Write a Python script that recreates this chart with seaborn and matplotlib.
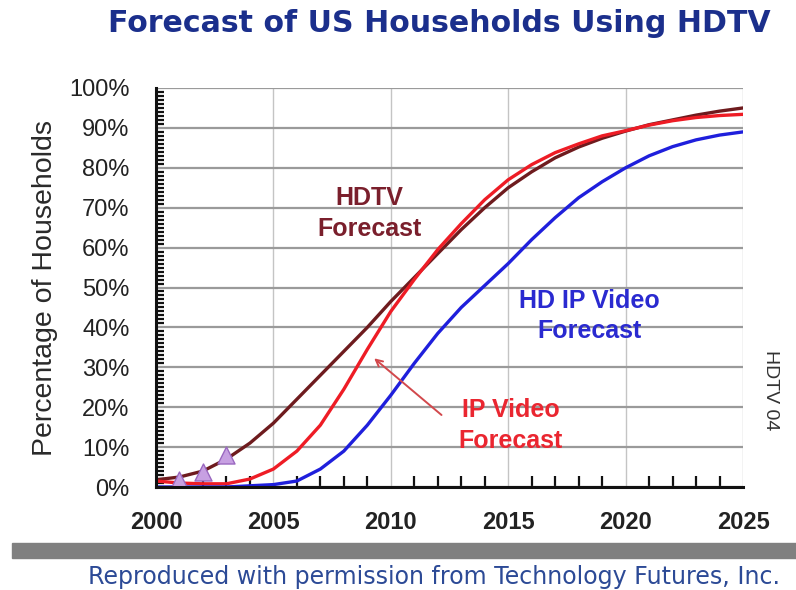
import numpy as np
import pandas as pd
import matplotlib
matplotlib.use("Agg")
import matplotlib.pyplot as plt
from matplotlib.ticker import MultipleLocator, FuncFormatter
import seaborn as sns

# ---- data (percent of US households) ----
years = list(range(2000, 2026))
hdtv = [1.8, 2.5, 4.0, 7.0, 11.0, 16.0, 22.0, 28.0, 34.0, 40.0, 46.5, 52.5, 58.5,
        64.5, 70.0, 75.0, 79.0, 82.5, 85.2, 87.4, 89.2, 90.8, 92.0, 93.2, 94.2, 95.0]
ip_video = [1.5, 1.0, 0.8, 0.8, 2.0, 4.5, 9.0, 15.5, 24.5, 34.5, 44.0, 52.0, 59.5,
            66.0, 72.0, 77.0, 80.8, 83.8, 86.0, 88.0, 89.3, 90.7, 91.8, 92.6, 93.1, 93.4]
hd_ip_video = [0.0, 0.0, 0.0, 0.0, 0.3, 0.6, 1.5, 4.5, 9.0, 15.5, 23.0, 31.0, 38.5,
               45.0, 50.5, 56.0, 62.0, 67.5, 72.5, 76.5, 80.0, 83.0, 85.3, 87.0, 88.2, 89.0]
actual_years = [2001, 2002, 2003]
actual_hdtv = [1.8, 3.8, 7.9]

series_names = ["HDTV", "IP Video", "HD IP Video"]
series_colors = ["#6e1b1e", "#ee1c25", "#1f1fdc"]

df = pd.DataFrame({
    "Year": years * 3,
    "Pct": hdtv + ip_video + hd_ip_video,
    "Series": [series_names[0]] * len(years) + [series_names[1]] * len(years)
              + [series_names[2]] * len(years),
})
actual = pd.DataFrame({"Year": actual_years, "Pct": actual_hdtv})

sns.set_theme(style="white")
plt.rcParams["font.family"] = ["Liberation Sans", "DejaVu Sans"]

fig = plt.figure(figsize=(7.96, 5.90), dpi=100)
ax = fig.add_axes([156 / 796, 1 - 487 / 590, (743 - 156) / 796, (487 - 88) / 590])

sns.lineplot(data=df, x="Year", y="Pct", hue="Series",
             palette=dict(zip(series_names, series_colors)),
             hue_order=series_names, linewidth=2.4, legend=False, ax=ax,
             zorder=3)
sns.scatterplot(data=actual, x="Year", y="Pct", marker="^", s=150,
                color="#c7a0e2", edgecolor="#9a68c0", linewidth=1.0,
                ax=ax, zorder=4, legend=False)

ax.set_xlim(2000, 2025)
ax.set_ylim(0, 100)
ax.xaxis.set_major_locator(MultipleLocator(5))
ax.xaxis.set_minor_locator(MultipleLocator(1))
ax.yaxis.set_major_locator(MultipleLocator(10))
ax.yaxis.set_minor_locator(MultipleLocator(1))
ax.yaxis.set_major_formatter(FuncFormatter(lambda v, p: f"{int(round(v))}%"))

ax.grid(True, which="major", axis="y", color="#9a9a9a", linewidth=1.6, zorder=0)
ax.grid(True, which="major", axis="x", color="#c4c4c4", linewidth=1.0, zorder=0)
ax.set_axisbelow(True)

for s in ["top", "right"]:
    ax.spines[s].set_visible(False)
for s in ["left", "bottom"]:
    ax.spines[s].set_color("#111111")
    ax.spines[s].set_linewidth(2.2)
    ax.spines[s].set_zorder(5)

ax.tick_params(axis="both", which="major", direction="inout", length=14,
               width=2.0, color="#111111")
ax.tick_params(axis="y", which="minor", direction="in", length=6, width=1.6,
               color="#111111", left=True)
ax.tick_params(axis="x", which="minor", direction="in", length=8, width=1.6,
               color="#111111", bottom=True)
ax.tick_params(axis="y", which="major", labelsize=17, pad=12, labelcolor="#222222")
ax.tick_params(axis="x", which="major", labelsize=17, pad=10, labelcolor="#222222")
for lab in ax.get_xticklabels():
    lab.set_fontweight("bold")

ax.set_xlabel("")
ax.set_ylabel("Percentage of Households", fontsize=20.5, color="#2a2a2a",
              labelpad=8)

# annotations
ax.text(2009.1, 68.6, "HDTV\nForecast", color="#7a1f2c", fontsize=18,
        fontweight="bold", ha="center", va="center", linespacing=1.35)
ax.text(2018.45, 42.9, "HD IP Video\nForecast", color="#2a2ad0", fontsize=18,
        fontweight="bold", ha="center", va="center", linespacing=1.35)
ax.text(2015.1, 15.4, "IP Video\nForecast", color="#ea2630", fontsize=18,
        fontweight="bold", ha="center", va="center", linespacing=1.35)
ax.annotate("", xy=(2009.2, 32.7), xytext=(2012.25, 17.6),
            arrowprops=dict(arrowstyle="->", color="#d2484c", lw=1.4,
                            mutation_scale=12))

# title
fig.text(439 / 796, 1 - 23 / 590, "Forecast of US Households Using HDTV",
         fontsize=21.6, fontweight="bold", color="#1b2f8c",
         family=["DejaVu Sans"], ha="center", va="center")

# side label
fig.text(770 / 796, 1 - 390 / 590, "HDTV 04", rotation=-90, fontsize=14,
         color="#333333", ha="center", va="center")

# bottom gray bar
fig.patches.append(plt.Rectangle((12 / 796, 1 - 558 / 590), 784 / 796, 15 / 590,
                                 transform=fig.transFigure, color="#808080",
                                 zorder=0))
fig.text(88 / 796, 1 - 577 / 590,
         "Reproduced with permission from Technology Futures, Inc.",
         fontsize=17.1, color="#2c4a96", family=["DejaVu Sans"],
         ha="left", va="center")

fig.savefig("out.png", dpi=100, facecolor="white")
